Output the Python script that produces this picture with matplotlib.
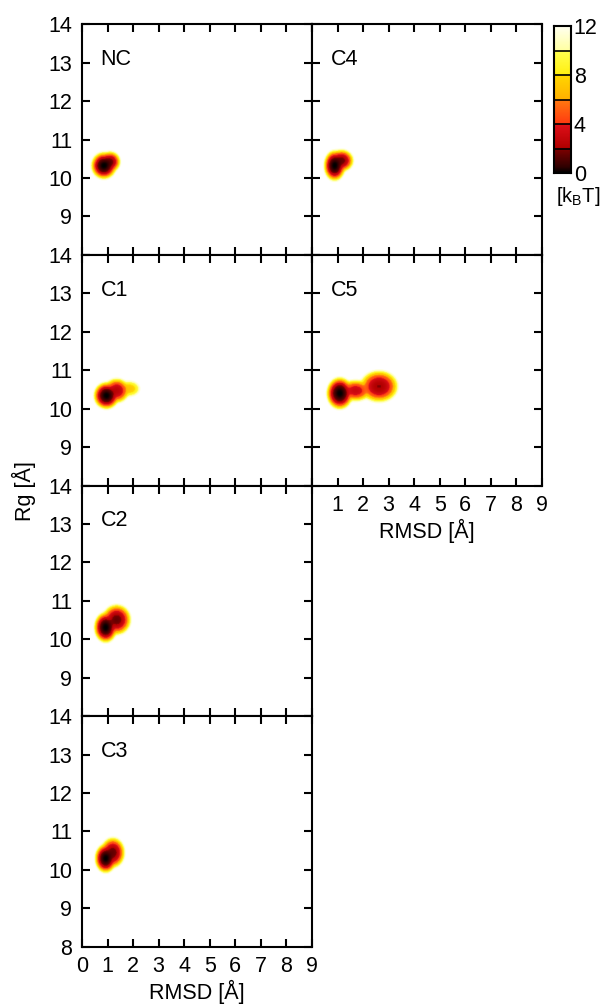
import numpy as np
import matplotlib
matplotlib.use('Agg')
import matplotlib.pyplot as plt
from matplotlib.colors import LinearSegmentedColormap

plt.rcParams['font.family'] = ['Liberation Sans', 'DejaVu Sans']
plt.rcParams['mathtext.fontset'] = 'custom'
plt.rcParams['mathtext.rm'] = 'Liberation Sans'

# ---------------- data ----------------
panel_names = ['NC', 'C1', 'C2', 'C3', 'C4', 'C5']
# free-energy basins per panel: centre (RMSD, Rg), half-widths, basin floor [kBT]
basin_x = {'NC': [0.85, 1.10], 'C4': [0.88, 1.15], 'C1': [0.95, 1.35, 1.85],
           'C5': [1.08, 1.70, 2.62], 'C2': [0.92, 1.35], 'C3': [0.92, 1.20]}
basin_y = {'NC': [10.32, 10.42], 'C4': [10.32, 10.45], 'C1': [10.32, 10.45, 10.50],
           'C5': [10.38, 10.45, 10.56], 'C2': [10.30, 10.50], 'C3': [10.30, 10.45]}
basin_wx = {'NC': [0.53, 0.45], 'C4': [0.45, 0.53], 'C1': [0.53, 0.58, 0.62],
            'C5': [0.55, 0.72, 0.85], 'C2': [0.48, 0.63], 'C3': [0.45, 0.53]}
basin_wy = {'NC': [0.37, 0.30], 'C4': [0.42, 0.32], 'C1': [0.37, 0.37, 0.30],
            'C5': [0.44, 0.33, 0.47], 'C2': [0.42, 0.44], 'C3': [0.40, 0.44]}
basin_f0 = {'NC': [0, 1.5], 'C4': [0, 1.5], 'C1': [0, 2.5, 7],
            'C5': [0, 3, 2], 'C2': [0, 1.5], 'C3': [0, 1.5]}

x_ticks = [0, 1, 2, 3, 4, 5, 6, 7, 8, 9]
y_ticks = [8, 9, 10, 11, 12, 13, 14]
cbar_ticks = [0, 4, 8, 12]
cbar_levels = [2, 4, 6, 8, 10]

# ---------------- layout ----------------
W, H = 605, 1006
panel_pos = {'NC': (0, 0), 'C1': (0, 1), 'C2': (0, 2), 'C3': (0, 3),
             'C4': (1, 0), 'C5': (1, 1)}
left_px = [82, 312]
pw = 230
top0 = 24.3
ph = 230.6

cmap = LinearSegmentedColormap.from_list('fe', [
    (0.000, '#000000'), (0.040, '#300000'), (0.166, '#800000'),
    (0.167, '#b00000'), (0.333, '#e0101a'), (0.334, '#ff3a10'),
    (0.500, '#ff7a10'), (0.501, '#ffb000'), (0.667, '#ffd800'),
    (0.668, '#ffef10'), (0.833, '#ffff50'), (0.834, '#ffffa0'),
    (1.000, '#fffff0')])
cmap.set_over('white')

fig = plt.figure(figsize=(W / 100, H / 100), dpi=100)

xg = np.linspace(0, 9, 451)
yg = np.linspace(8, 14, 301)
XX, YY = np.meshgrid(xg, yg)
p = 2.5


def smooth(a, sig_cells):
    n = int(3 * sig_cells) + 1
    k = np.exp(-0.5 * (np.arange(-n, n + 1) / sig_cells) ** 2)
    k /= k.sum()
    a = np.pad(a, n, mode='edge')
    a = np.apply_along_axis(lambda r: np.convolve(r, k, mode='valid'), 1, a)
    a = np.apply_along_axis(lambda c: np.convolve(c, k, mode='valid'), 0, a)
    return a


FS = 15.5
for name in panel_names:
    col, row = panel_pos[name]
    l = left_px[col] / W
    b = 1 - (top0 + ph * (row + 1)) / H
    ax = fig.add_axes([l, b, pw / W, ph / H])
    terms = []
    for cx, cy, wx, wy, f0 in zip(basin_x[name], basin_y[name], basin_wx[name],
                                  basin_wy[name], basin_f0[name]):
        r = np.sqrt(((XX - cx) / wx) ** 2 + ((YY - cy) / wy) ** 2)
        terms.append(np.exp(-(f0 + 12 * r ** p)))
    F = -np.log(np.sum(terms, axis=0) + 1e-300)
    F = F - F.min()
    F = np.minimum(F, 13.0)
    F = smooth(F, 2.0)
    F = F - F.min()
    ax.imshow(F, extent=[0, 9, 8, 14], origin='lower', cmap=cmap, vmin=0, vmax=12,
              aspect='auto', interpolation='bilinear')
    ax.set_xlim(0, 9)
    ax.set_ylim(8, 14)
    ax.set_xticks(x_ticks)
    ax.set_yticks(y_ticks)
    ax.tick_params(direction='in', length=6, width=1.5, top=True, right=True,
                   labelsize=FS, pad=7)
    for s in ax.spines.values():
        s.set_linewidth(1.5)
    if col == 0:
        if row == 3:
            ax.set_yticklabels([str(v) for v in y_ticks])
        else:
            ax.set_yticklabels([''] + [str(v) for v in y_ticks[1:]])
    else:
        ax.set_yticklabels([])
    if (col == 0 and row == 3):
        ax.set_xticklabels([str(v) for v in x_ticks])
        ax.set_xlabel('RMSD [Å]', fontsize=FS, labelpad=2)
    elif (col == 1 and row == 1):
        ax.set_xticklabels([''] + [str(v) for v in x_ticks[1:]])
        ax.set_xlabel('RMSD [Å]', fontsize=FS, labelpad=2)
    else:
        ax.set_xticklabels([])
    ax.text(0.72, 13.08, name, fontsize=FS, ha='left', va='center')

fig.text(24 / W, 1 - 491 / H, 'Rg [Å]', rotation=90, ha='center', va='center',
         fontsize=FS)

# colour bar
cax = fig.add_axes([554 / W, 1 - 173 / H, 17 / W, 147 / H])
grad = np.linspace(0, 12, 300).reshape(-1, 1)
cax.imshow(grad, extent=[0, 1, 0, 12], origin='lower', cmap=cmap, vmin=0, vmax=12.0001,
           aspect='auto')
for lv in cbar_levels:
    cax.axhline(lv, color='black', lw=1.2)
cax.set_xlim(0, 1)
cax.set_ylim(0, 12)
cax.set_xticks([])
cax.yaxis.tick_right()
cax.set_yticks(cbar_ticks)
cax.set_yticklabels([str(v) for v in cbar_ticks])
cax.tick_params(axis='y', length=0, pad=2, labelsize=FS)
for s in cax.spines.values():
    s.set_linewidth(1.5)
fig.text(578 / W, 1 - 185 / H, r'[k$_{\mathrm{B}}$T]', ha='center', va='top',
         fontsize=FS - 1)

fig.savefig('out.png', dpi=100)
